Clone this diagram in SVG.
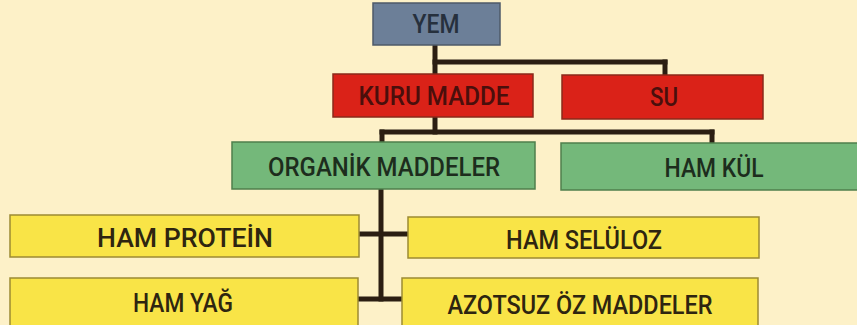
<svg xmlns="http://www.w3.org/2000/svg" width="857" height="325" viewBox="0 0 857 325">
<style>
.bg{fill:#FDF1C8}
.gray{fill:#6C7F98;stroke:#4e5a68;stroke-width:1.5}
.red{fill:#DA2218;stroke:#8a2a1a;stroke-width:1.5}
.green{fill:#74B87A;stroke:#4f7f4c;stroke-width:1.5}
.yellow{fill:#F9E447;stroke:#9c8a33;stroke-width:1.5}
text{font-family:Roboto,"Liberation Sans",sans-serif;font-weight:500;font-size:25.5px;text-anchor:middle}
.tg{fill:#26303d}
.tr{fill:#4a0f0c}
.tn{fill:#1d2d1d}
.ty{fill:#2e2510}
.conn line{stroke:#2b1e12;stroke-width:5;stroke-linecap:square}
</style>
<rect class="bg" x="0" y="0" width="857" height="325"/>
<g class="conn">
<line x1="435" y1="45" x2="435" y2="74"/>
<line x1="435" y1="62" x2="665" y2="62"/>
<line x1="665" y1="62" x2="665" y2="75"/>
<line x1="435" y1="117" x2="435" y2="132"/>
<line x1="382" y1="132" x2="712" y2="132"/>
<line x1="382" y1="132" x2="382" y2="143"/>
<line x1="712" y1="132" x2="712" y2="143"/>
<line x1="381" y1="189" x2="381" y2="299"/>
<line x1="359" y1="234" x2="408" y2="234"/>
<line x1="358" y1="299" x2="402" y2="299"/>
</g>
<g id="yem"><rect class="gray" x="373" y="3" width="127" height="42"/><text class="tg" x="436" y="33" textLength="47" lengthAdjust="spacingAndGlyphs">YEM</text></g>
<g id="kuru-madde"><rect class="red" x="333" y="74" width="200" height="43"/><text class="tr" x="434" y="105" textLength="151" lengthAdjust="spacingAndGlyphs">KURU MADDE</text></g>
<g id="su"><rect class="red" x="562" y="75" width="201" height="44"/><text class="tr" x="664" y="106" textLength="28" lengthAdjust="spacingAndGlyphs">SU</text></g>
<g id="organik-maddeler"><rect class="green" x="232" y="142" width="303" height="47"/><text class="tn" x="384" y="176" textLength="232" lengthAdjust="spacingAndGlyphs">ORGANİK MADDELER</text></g>
<g id="ham-kul"><rect class="green" x="561" y="143" width="300" height="47"/><text class="tn" x="714" y="177" textLength="99" lengthAdjust="spacingAndGlyphs">HAM KÜL</text></g>
<g id="ham-protein"><rect class="yellow" x="10" y="215" width="349" height="42"/><text class="ty" x="185" y="247" textLength="176" lengthAdjust="spacingAndGlyphs">HAM PROTEİN</text></g>
<g id="ham-seluloz"><rect class="yellow" x="408" y="217" width="351" height="41"/><text class="ty" x="584" y="249" textLength="156" lengthAdjust="spacingAndGlyphs">HAM SELÜLOZ</text></g>
<g id="ham-yag"><rect class="yellow" x="10" y="278" width="348" height="48"/><text class="ty" x="183" y="312" textLength="100" lengthAdjust="spacingAndGlyphs">HAM YAĞ</text></g>
<g id="azotsuz-oz-maddeler"><rect class="yellow" x="402" y="278" width="356" height="48"/><text class="ty" x="580" y="314" textLength="265" lengthAdjust="spacingAndGlyphs">AZOTSUZ ÖZ MADDELER</text></g>
</svg>
